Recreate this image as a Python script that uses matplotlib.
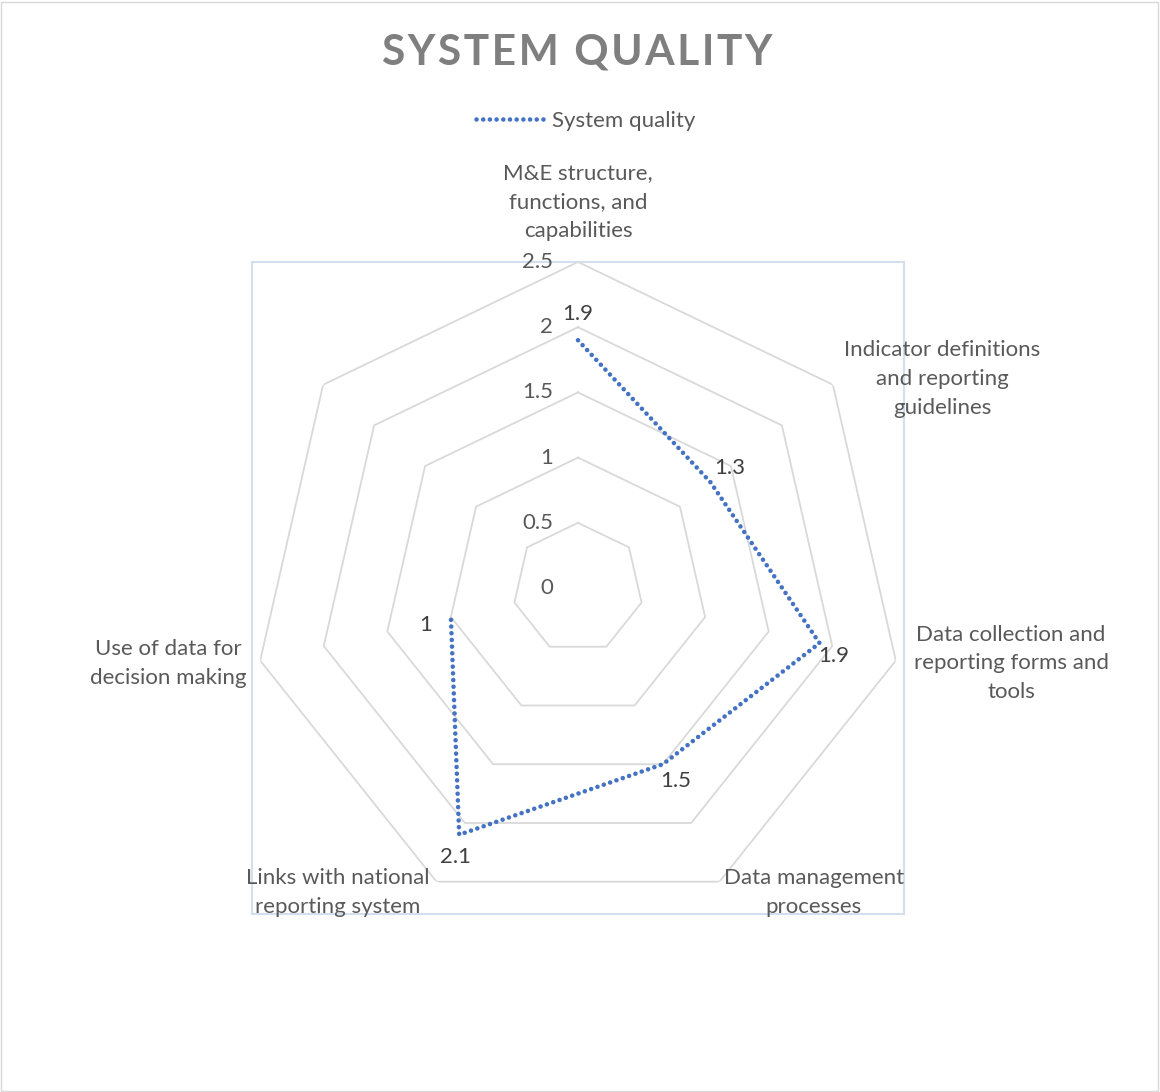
import numpy as np
import matplotlib
matplotlib.use("Agg")
import matplotlib.pyplot as plt
from matplotlib.patches import Rectangle

# 数据
categories = [
    "M&E structure,\nfunctions, and\ncapabilities",
    "Indicator definitions\nand reporting\nguidelines",
    "Data collection and\nreporting forms and\ntools",
    "Data management\nprocesses",
    "Links with national\nreporting system",
    "Use of data for\ndecision making",
    "",
]
values = [1.9, 1.3, 1.9, 1.5, 2.1, 1.0, np.nan]
value_text = ["1.9", "1.3", "1.9", "1.5", "2.1", "1", ""]
rings = [0.5, 1.0, 1.5, 2.0, 2.5]
ring_text = ["0", "0.5", "1", "1.5", "2", "2.5"]
series_name = "System quality"
title = "SYSTEM QUALITY"

# 样式
plt.rcParams['font.family'] = ['Lato', 'DejaVu Sans']
line_color = "#4472C4"
grid_color = "#D9D9D9"
text_color = "#595959"
label_color = "#404040"
fs = 16

W, H = 1160, 1092
fig = plt.figure(figsize=(W / 100, H / 100), dpi=100)

# 极坐标轴（中心约在 578,588 像素）
ax = fig.add_axes([252 / W, 1 - 914 / H, 652 / W, 652 / H], projection="polar")
ax.set_theta_zero_location("N")
ax.set_theta_direction(-1)
ax.set_ylim(0, 2.5)
ax.grid(False)
ax.spines["polar"].set_visible(False)
ax.set_xticks([])
ax.set_yticks([])
ax.patch.set_alpha(0)

n = len(categories)
theta = np.arange(n) * 2 * np.pi / n
theta_closed = np.append(theta, theta[0])

# 网格多边形
for r in rings:
    ax.plot(theta_closed, [r] * (n + 1), color=grid_color, lw=1.3, zorder=1)

# 径向刻度标签
for r, t in zip([0] + rings, ring_text):
    ax.annotate(t, xy=(0, r), xytext=(-18, 0), textcoords="offset points",
                ha="right", va="center", fontsize=fs, color=text_color)

# 数据线
ax.plot(theta, values, color=line_color, lw=3.3, linestyle=(0, (0.01, 1.45)),
        dash_capstyle="round", zorder=3, label=series_name)

# 数据标签偏移 (points)
value_offsets = [(0, 19), (14, 10), (10, -9), (9, -12), (-3, -16), (-18, -6), (0, 0)]
for th, v, t, off in zip(theta, values, value_text, value_offsets):
    if np.isnan(v):
        continue
    ax.annotate(t, xy=(th, v), xytext=off, textcoords="offset points",
                ha="center", va="center", fontsize=fs, color=label_color)

# 类别标签偏移 (points)
cat_offsets = [(0, 43), (79, 4), (83, -2), (68, -8), (-71, -8), (-66, -2), (0, 0)]
for th, c, off in zip(theta, categories, cat_offsets):
    if not c:
        continue
    ax.annotate(c, xy=(th, 2.5), xytext=off, textcoords="offset points",
                ha="center", va="center", fontsize=fs, color=text_color,
                linespacing=1.55, annotation_clip=False)

# 绘图区边框
ax_box = ax.get_position()
fig.add_artist(Rectangle((ax_box.x0, ax_box.y0), ax_box.width, ax_box.height,
                         transform=fig.transFigure, fill=False,
                         ec="#D3DEEF", lw=1.5, zorder=0))
fig.add_artist(Rectangle((0.001, 0.001), 0.997, 0.997, transform=fig.transFigure,
                         fill=False, ec=grid_color, lw=1))

# 标题和图例（字间距用 hair space）
spaced_title = "\u200a".join(title)
fig.text(0.498, 1 - 52 / H, spaced_title, ha="center", va="center", fontsize=30.5,
         fontweight="bold", color="#7F7F7F")
fig.legend(loc="center", bbox_to_anchor=(0.505, 1 - 121 / H), frameon=False,
           fontsize=fs, handlelength=3.2, handletextpad=0.25, labelcolor=text_color)

fig.savefig("out.png", dpi=100, facecolor="white")
